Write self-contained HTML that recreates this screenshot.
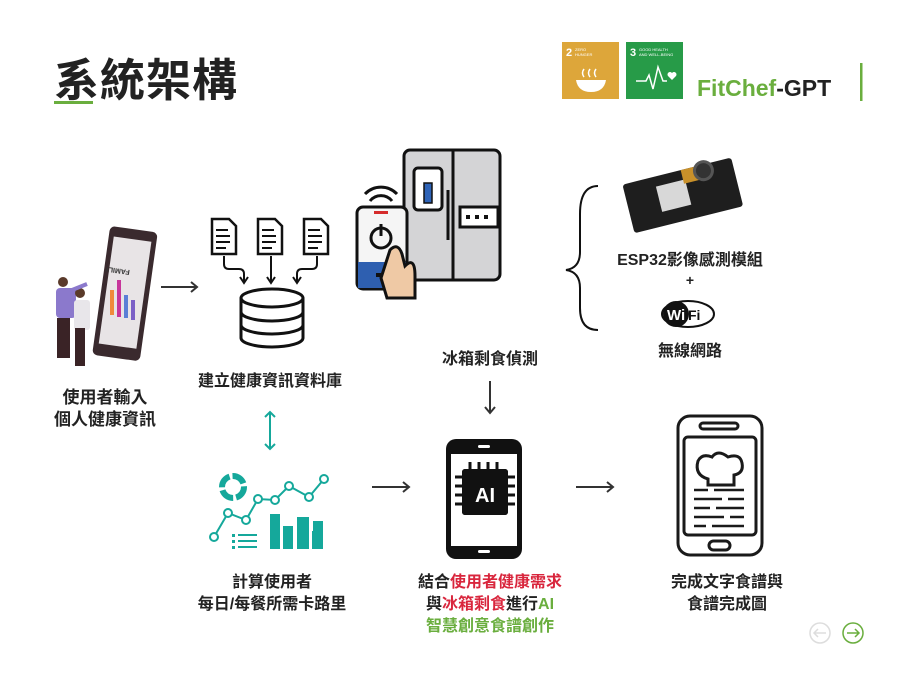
<!DOCTYPE html>
<html><head><meta charset="utf-8"><style>
body{margin:0;width:923px;height:684px;background:#fff;position:relative;overflow:hidden;font-family:"Liberation Sans","Noto Sans CJK TC",sans-serif;}
.t{position:absolute;font-weight:bold;color:#222;white-space:nowrap;text-align:center;}
</style></head><body>
<div class="t" style="left:54px;top:44px;font-size:45px;letter-spacing:1px;color:#222">系統架構</div>
<div style="position:absolute;left:54px;top:101px;width:39px;height:3px;background:#6aae3e"></div>

<svg width="923" height="684" style="position:absolute;left:0;top:0">
<!-- SDG -->
<rect x="562" y="42" width="57" height="57" fill="#dda63a"/>
<text x="566" y="56" font-size="11" font-weight="bold" fill="#fff" font-family="Liberation Sans">2</text>
<text x="575" y="51" font-size="4" fill="#fff" font-family="Liberation Sans">ZERO</text>
<text x="575" y="56" font-size="4" fill="#fff" font-family="Liberation Sans">HUNGER</text>
<path d="M576 80 h30 q-2 12 -15 12 q-13 0 -15 -12z" fill="#fff"/>
<path d="M584 77 q-3 -4 0 -8 M590 77 q-3 -4 0 -8 M596 77 q-3 -4 0 -8" stroke="#fff" stroke-width="1.5" fill="none"/>
<rect x="626" y="42" width="57" height="57" fill="#279b48"/>
<text x="630" y="56" font-size="11" font-weight="bold" fill="#fff" font-family="Liberation Sans">3</text>
<text x="639" y="51" font-size="4" fill="#fff" font-family="Liberation Sans">GOOD HEALTH</text>
<text x="639" y="56" font-size="4" fill="#fff" font-family="Liberation Sans">AND WELL-BEING</text>
<path d="M636 81 h10 l3 -6 l4 14 l5 -22 l5 14 h4" stroke="#fff" stroke-width="1.5" fill="none"/>
<path d="M672 80 l-4 -4 a2.5 2.5 0 0 1 4 -3 a2.5 2.5 0 0 1 4 3z" fill="#fff"/>
<text x="697" y="96" font-size="23" font-weight="bold" font-family="Liberation Sans"><tspan fill="#6aae3e">FitChef</tspan><tspan fill="#222">-GPT</tspan></text>
<rect x="860" y="63" width="2.5" height="38" fill="#6aae3e"/>

<!-- people + tablet -->
<g transform="rotate(8 120 300)">
<rect x="100" y="228" width="48" height="130" rx="5" fill="#3a2a2e"/>
<rect x="105" y="238" width="38" height="108" fill="#e8e4e6"/>
</g>
<text x="113" y="255" font-size="7" font-weight="bold" fill="#333" transform="rotate(188 122 262)" font-family="Liberation Sans">FAMILY</text>
<rect x="110" y="290" width="4" height="25" fill="#f08a3c"/>
<rect x="117" y="280" width="4" height="37" fill="#c7359b"/>
<rect x="124" y="295" width="4" height="23" fill="#5b7fd6"/>
<rect x="131" y="300" width="4" height="20" fill="#7b5fc6"/>
<rect x="56" y="288" width="20" height="30" fill="#8b79cc" rx="4"/>
<circle cx="63" cy="282" r="5" fill="#5a3a2a"/>
<rect x="57" y="318" width="13" height="40" fill="#3a2326"/>
<rect x="74" y="300" width="16" height="30" fill="#e8e6ea" rx="3"/>
<circle cx="80" cy="293" r="5" fill="#5a3a2a"/>
<rect x="75" y="328" width="10" height="38" fill="#3a2326"/>
<line x1="72" y1="290" x2="87" y2="284" stroke="#8b79cc" stroke-width="4"/>
<!-- arrows -->
<g stroke="#333" stroke-width="2" fill="none">
<path d="M161 287 h36 M191 282 l6 5 l-6 5"/>
<path d="M372 487 h37 M403 482 l6 5 l-6 5"/>
<path d="M576 487 h37 M607 482 l6 5 l-6 5"/>
<path d="M490 381 v32 M485 407 l5 6 l5 -6"/>
</g>
<g stroke="#15a89b" stroke-width="2" fill="none">
<path d="M270 412 v37 M265 417 l5 -5 l5 5 M265 444 l5 5 l5 -5"/>
</g>
<!-- docs -->
<g stroke="#111" stroke-width="2.5" fill="#fff">
<path d="M212 219 h17 l7 7 v28 h-24z"/><path d="M258 219 h17 l7 7 v28 h-24z"/><path d="M304 219 h17 l7 7 v28 h-24z"/>
</g>
<g stroke="#111" stroke-width="2">
<path d="M216 230 h12 M216 236 h14 M216 242 h14 M216 248 h10"/>
<path d="M262 230 h12 M262 236 h14 M262 242 h14 M262 248 h10"/>
<path d="M308 230 h12 M308 236 h14 M308 242 h14 M308 248 h10"/>
</g>
<g stroke="#111" stroke-width="2" fill="none">
<path d="M224 256 v8 q0 5 5 5 h10 q5 0 5 5 v8 M240 277 l4 6 l4 -6"/>
<path d="M271 256 v26 M267 277 l4 6 l4 -6"/>
<path d="M317 256 v8 q0 5 -5 5 h-10 q-5 0 -5 5 v8 M293 277 l4 6 l4 -6"/>
</g>
<g stroke="#111" stroke-width="3" fill="#fff">
<path d="M241 298 v40 a31 9 0 0 0 62 0 v-40"/>
<ellipse cx="272" cy="298" rx="31" ry="9"/>
<path d="M241 312 a31 9 0 0 0 62 0 M241 325 a31 9 0 0 0 62 0" fill="none"/>
</g>
<!-- fridge -->
<rect x="404" y="150" width="96" height="130" rx="6" fill="#d4d4d6" stroke="#111" stroke-width="3"/>
<line x1="453" y1="150" x2="453" y2="280" stroke="#111" stroke-width="3"/>
<rect x="414" y="168" width="28" height="42" rx="4" fill="#fff" stroke="#111" stroke-width="3"/>
<rect x="424" y="183" width="8" height="20" fill="#2e63b7" stroke="#111" stroke-width="1.5"/>
<rect x="460" y="207" width="38" height="20" fill="#fff" stroke="#111" stroke-width="3"/>
<g fill="#111"><rect x="466" y="215" width="4" height="4"/><rect x="475" y="215" width="4" height="4"/><rect x="484" y="215" width="4" height="4"/></g>
<line x1="448" y1="190" x2="448" y2="240" stroke="#111" stroke-width="3"/>
<rect x="357" y="207" width="50" height="82" rx="6" fill="#f5f5f5" stroke="#111" stroke-width="3"/>
<rect x="358" y="262" width="48" height="26" fill="#2e5fb0"/>
<rect x="376" y="273" width="10" height="4" fill="#111"/>
<rect x="374" y="211" width="14" height="3" fill="#d52b2b"/>
<circle cx="381" cy="238" r="10" fill="none" stroke="#111" stroke-width="3"/>
<line x1="381" y1="224" x2="381" y2="236" stroke="#111" stroke-width="3"/>
<path d="M365 194 a22 22 0 0 1 32 0 M370 201 a14 14 0 0 1 22 0" stroke="#111" stroke-width="3" fill="none"/>
<path d="M390 250 q8 -8 12 4 l3 12 q10 -10 10 10 v22 h-28 l-6 -20z" fill="#efc9a5" stroke="#111" stroke-width="3"/>
<!-- brace -->
<path d="M598 186 q-18 0 -18 28 v38 q0 16 -14 18 q14 2 14 18 v20 q0 22 18 22" stroke="#111" stroke-width="2" fill="none"/>
<!-- esp32 -->
<g transform="rotate(-14 685 200)">
<rect x="628" y="170" width="112" height="50" rx="3" fill="#1e1e1e"/>
<rect x="660" y="180" width="30" height="26" fill="#d8d8d8"/>
<rect x="688" y="170" width="16" height="14" fill="#c8902a"/>
<circle cx="710" cy="176" r="9" fill="#333" stroke="#555" stroke-width="3"/>
</g>
<!-- wifi -->
<ellipse cx="688" cy="314" rx="26" ry="13" fill="#fff" stroke="#111" stroke-width="2"/>
<circle cx="676" cy="314" r="13" fill="#111"/>
<text x="667" y="320" font-size="15" font-weight="bold" fill="#fff" font-family="Liberation Sans">Wi</text>
<text x="688" y="320" font-size="14" font-weight="bold" fill="#111" font-family="Liberation Sans">Fi</text>
<!-- chart -->
<g stroke="#15a89b" fill="none" stroke-width="2">
<circle cx="233" cy="487" r="11" stroke-width="6" stroke-dasharray="14 3"/>
<polyline points="214,537 228,513 246,520 258,499 275,500 289,486 309,497 324,479"/>
</g>
<g fill="#fff" stroke="#15a89b" stroke-width="2">
<circle cx="214" cy="537" r="4"/><circle cx="228" cy="513" r="4"/><circle cx="246" cy="520" r="4"/><circle cx="258" cy="499" r="4"/><circle cx="275" cy="500" r="4"/><circle cx="289" cy="486" r="4"/><circle cx="309" cy="497" r="4"/><circle cx="324" cy="479" r="4"/>
</g>
<g fill="#15a89b">
<rect x="270" y="514" width="10" height="35"/><rect x="283" y="526" width="10" height="23"/><rect x="297" y="517" width="12" height="32"/><rect x="313" y="521" width="10" height="28"/><rect x="312" y="531" width="10" height="18"/>
<rect x="232" y="534" width="3" height="3"/><rect x="238" y="534" width="19" height="2"/><rect x="232" y="540" width="3" height="3"/><rect x="238" y="540" width="19" height="2"/><rect x="232" y="546" width="3" height="3"/><rect x="238" y="546" width="19" height="2"/>
</g>
<!-- AI phone -->
<rect x="446" y="439" width="76" height="120" rx="10" fill="#111"/>
<rect x="451" y="454" width="66" height="92" fill="#fff"/>
<rect x="478" y="445" width="12" height="3" rx="1.5" fill="#fff"/>
<rect x="478" y="550" width="12" height="3" rx="1.5" fill="#fff"/>
<rect x="462" y="469" width="46" height="46" rx="3" fill="#111"/>
<g stroke="#111" stroke-width="3">
<path d="M470 462 v50 M479 462 v50 M488 462 v50 M497 462 v50 M455 477 h60 M455 486 h60 M455 495 h60 M455 504 h60"/>
</g>
<rect x="462" y="469" width="46" height="46" rx="3" fill="#111"/>
<text x="485" y="502" font-size="20" font-weight="bold" fill="#fff" text-anchor="middle" font-family="Liberation Sans">AI</text>
<!-- recipe phone -->
<g stroke="#1a1a1a" stroke-width="3" fill="none">
<rect x="678" y="416" width="84" height="139" rx="12"/>
<rect x="684" y="437" width="72" height="98" rx="4"/>
<rect x="700" y="423" width="38" height="6" rx="3"/>
<rect x="709" y="541" width="21" height="9" rx="4.5"/>
<path d="M708 479 q-14 -4 -10 -18 q4 -8 14 -4 q6 -8 16 0 q12 -4 14 6 q2 10 -8 12 v10 h-26z"/>
<path d="M694 490 h14 M714 490 h30 M694 499 h28 M728 499 h16 M694 508 h16 M716 508 h28 M694 517 h30 M730 517 h14 M694 526 h12 M712 526 h32" stroke-width="2.5"/>
</g>
<!-- nav -->
<circle cx="820" cy="633" r="10" fill="none" stroke="#ddd" stroke-width="1.5"/>
<path d="M814 633 h12 M818 629 l-4 4 l4 4" stroke="#ddd" stroke-width="1.5" fill="none"/>
<circle cx="853" cy="633" r="10" fill="none" stroke="#6aae3e" stroke-width="1.5"/>
<path d="M847 633 h12 M855 629 l4 4 l-4 4" stroke="#6aae3e" stroke-width="1.5" fill="none"/>
</svg>

<div class="t" style="left:180px;top:367px;width:180px;font-size:16px">建立健康資訊資料庫</div>
<div class="t" style="left:15px;top:387px;width:180px;font-size:17px;line-height:22px">使用者輸入<br>個人健康資訊</div>
<div class="t" style="left:400px;top:345px;width:180px;font-size:16px">冰箱剩食偵測</div>
<div class="t" style="left:590px;top:246px;width:200px;font-size:16px">ESP32影像感測模組</div>
<div class="t" style="left:640px;top:272px;width:100px;font-size:14px">+</div>
<div class="t" style="left:620px;top:337px;width:140px;font-size:16px">無線網路</div>
<div class="t" style="left:172px;top:572px;width:200px;font-size:16px;line-height:22px">計算使用者<br>每日/每餐所需卡路里</div>
<div class="t" style="left:390px;top:572px;width:200px;font-size:16px;line-height:22px">結合<span style="color:#d9263d">使用者健康需求</span><br>與<span style="color:#d9263d">冰箱剩食</span>進行<span style="color:#6aae3e">AI</span><br><span style="color:#6aae3e">智慧創意食譜創作</span></div>
<div class="t" style="left:627px;top:572px;width:200px;font-size:16px;line-height:22px">完成文字食譜與<br>食譜完成圖</div>
</body></html>
